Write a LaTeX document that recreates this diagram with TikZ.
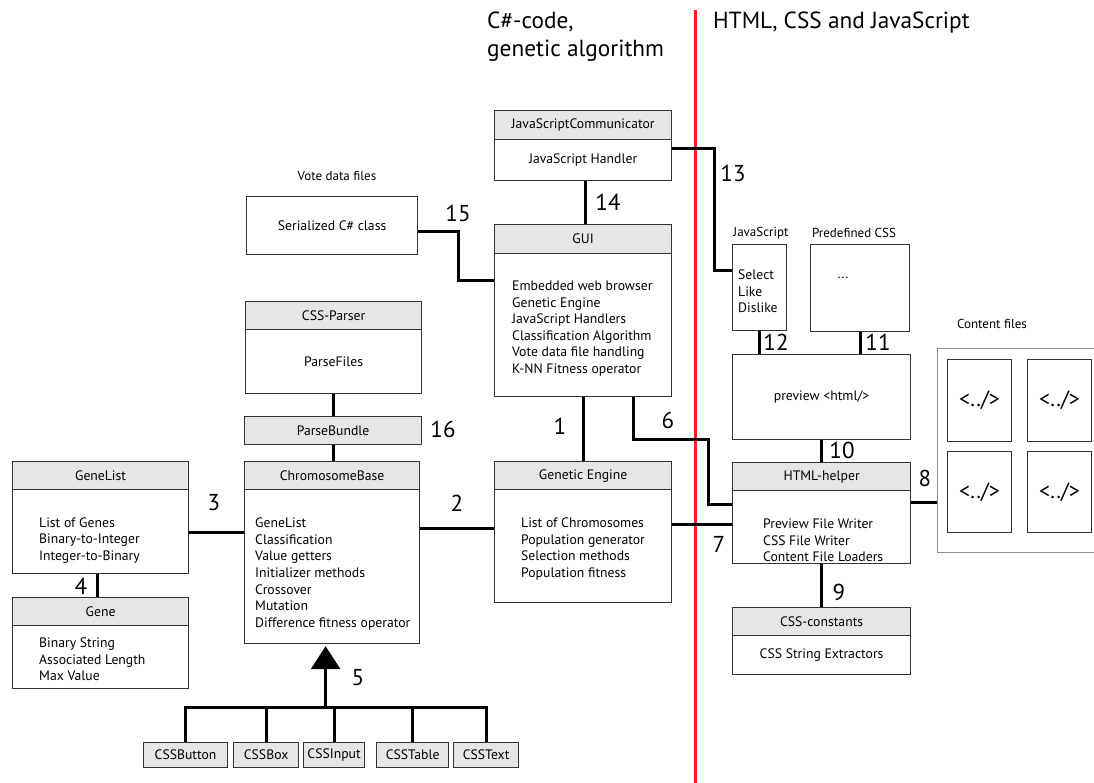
\documentclass[tikz,border=0pt]{standalone}
\usepackage{fontspec}
\setmainfont{PT Sans}
\usetikzlibrary{arrows.meta,calc}
\definecolor{hdrgray}{HTML}{E6E6E6}
\definecolor{edgegray}{HTML}{333333}
\definecolor{framegray}{HTML}{8C8C8C}
\definecolor{divider}{HTML}{FF2020}
\begin{document}
\begin{tikzpicture}[x=1pt,y=-1pt,
  box/.style={draw=edgegray, line width=1.2pt, inner sep=0pt, anchor=north west,
              fill=white, font=\fontsize{13.7}{15}\selectfont},
  hdr/.style={box, fill=hdrgray},
  conn/.style={line width=3pt, draw=black},
  num/.style={font=\fontsize{23}{24}\selectfont, inner sep=0pt},
  lines/.style={align=left, inner sep=0pt, anchor=west, font=\fontsize{13.7}{16.6}\selectfont},
  small/.style={font=\fontsize{13}{14}\selectfont, inner sep=0pt},
  heading/.style={font=\fontsize{23.3}{26}\selectfont, inner sep=0pt, anchor=base west},
  tile/.style={draw=edgegray, line width=1.2pt, inner sep=0pt, anchor=north west,
               minimum width=64pt, font=\fontsize{22}{24}\selectfont},
]
\clip (0,0) rectangle (1094,783);
\fill[white] (0,0) rectangle (1094,783);

% ---- division between the two code bases
\coordinate (divtop) at (695,10);
\coordinate (divbot) at (695,783);
\draw[divider, line width=3pt] (divtop) -- (divbot);
\node[heading] (h1a) at (487,29) {C\#-code,};
\node[heading] (h1b) at (487,57) {genetic algorithm};
\node[heading] (h2) at (713,29) {HTML, CSS and JavaScript};

% ---- C# classes
\node[hdr, minimum width=177pt, minimum height=29pt] (jsc) at (494,110) {JavaScriptCommunicator};
\node[box, minimum width=177pt, minimum height=41pt] (jscb) at (494,139) {JavaScript Handler};

\node[hdr, minimum width=177pt, minimum height=29pt] (gui) at (494,224) {GUI};
\node[box, minimum width=177pt, minimum height=143pt] (guib) at (494,253) {};
\node[lines] (guit) at (512,328.5) {Embedded web browser\\Genetic Engine\\JavaScript Handlers\\Classification Algorithm\\Vote data file handling\\K-NN Fitness operator};

\node[small] (votelbl) at (337,176) {Vote data files};
\node[box, minimum width=171pt, minimum height=58pt] (ser) at (246,196) {Serialized C\# class};

\node[hdr, minimum width=176pt, minimum height=28pt] (csp) at (245,301) {CSS-Parser};
\node[box, minimum width=176pt, minimum height=64pt] (cspb) at (245,329) {ParseFiles};

\node[hdr, minimum width=177pt, minimum height=28pt] (pb) at (244,416) {ParseBundle};

\node[hdr, minimum width=175pt, minimum height=28pt] (cb) at (244,461) {ChromosomeBase};
\node[box, minimum width=175pt, minimum height=154pt] (cbb) at (244,489) {};
\node[lines] (cbt) at (255,574) {GeneList\\Classification\\Value getters\\Initializer methods\\Crossover\\Mutation\\Difference fitness operator};

\node[hdr, minimum width=176pt, minimum height=28pt] (gl) at (12,461) {GeneList};
\node[box, minimum width=176pt, minimum height=84pt] (glb) at (12,489) {};
\node[lines] (glt) at (39,540.5) {List of Genes\\Binary-to-Integer\\Integer-to-Binary};

\node[hdr, minimum width=176pt, minimum height=28pt] (gene) at (12,597) {Gene};
\node[box, minimum width=176pt, minimum height=63pt] (geneb) at (12,625) {};
\node[lines] (genet) at (39,659.5) {Binary String\\Associated Length\\Max Value};

\node[hdr, minimum width=177pt, minimum height=28pt] (ge) at (494,461) {Genetic Engine};
\node[box, minimum width=177pt, minimum height=113pt] (geb) at (494,489) {};
\node[lines] (get) at (521,549) {List of Chromosomes\\Population generator\\Selection methods\\Population fitness};

% ---- CSS element subclasses
\node[hdr, minimum width=84pt, minimum height=25pt] (cssbutton) at (143,742) {CSSButton};
\node[hdr, minimum width=65pt, minimum height=25pt] (cssbox) at (233,742) {CSSBox};
\node[hdr, minimum width=61pt, minimum height=25pt] (cssinput) at (303,742) {CSSInput};
\node[hdr, minimum width=72pt, minimum height=25pt] (csstable) at (376,742) {CSSTable};
\node[hdr, minimum width=65pt, minimum height=25pt] (csstext) at (453,742) {CSSText};

% ---- web side
\node[small] (jslbl) at (761,233) {JavaScript};
\node[box, minimum width=54pt, minimum height=86pt] (js) at (732,244) {};
\node[lines] (jst) at (738,291.5) {Select\\Like\\Dislike};

\node[small] (pcsslbl) at (854,233) {Predefined CSS};
\node[box, minimum width=99pt, minimum height=87pt] (pcss) at (810,244) {};
\node[inner sep=0pt, font=\fontsize{13.7}{15}\selectfont] (dots) at (843,278) {...};

\node[box, minimum width=178pt, minimum height=85pt] (prev) at (732,354) {preview <html/>};

\node[hdr, minimum width=178pt, minimum height=28pt] (hh) at (732,462) {HTML-helper};
\node[box, minimum width=178pt, minimum height=73pt] (hhb) at (732,490) {};
\node[lines] (hht) at (763,540.5) {Preview File Writer\\CSS File Writer\\Content File Loaders};

\node[hdr, minimum width=178pt, minimum height=28pt] (cssc) at (732,607) {CSS-constants};
\node[box, minimum width=178pt, minimum height=39pt] (csscb) at (732,635) {CSS String Extractors};

\node[small] (contlbl) at (992,324) {Content files};
\node[draw=framegray, line width=1.2pt, inner sep=0pt, anchor=north west,
      minimum width=170pt, minimum height=204pt] (frame) at (937,348) {};
\node[tile, minimum height=82pt] (t1) at (947,359) {<../>};
\node[tile, minimum height=82pt] (t2) at (1027,359) {<../>};
\node[tile, minimum height=81pt] (t3) at (947,451) {<../>};
\node[tile, minimum height=81pt] (t4) at (1027,451) {<../>};

% ---- connectors
% 1
\draw[conn] (guib.south) -- (ge.north);
\node[num] at (560,426) {1};
% 2
\draw[conn] ([yshift=-39pt]cbb.north east) -- ([yshift=-39pt]cbb.north east -| geb.west);
\node[num] at (457,503) {2};
% 3
\draw[conn] ([yshift=-43pt]glb.north east) -- ([yshift=-43pt]glb.north east -| cbb.west);
\node[num] at (214,503) {3};
% 4
\draw[conn] ([xshift=-3pt]glb.south) -- ([xshift=-3pt]gene.north);
\node[num] at (81,586) {4};
% 5 : inheritance
\coordinate (bar) at ([yshift=35pt]cssbutton.north);
\draw[conn] (cssbutton.north) |- ([yshift=35pt]csstext.north) -- (csstext.north);
\foreach \c in {cssbox,cssinput,csstable}
  \draw[conn] (\c.north) -- ([yshift=35pt]\c.north);
\coordinate (tip) at ([xshift=-6.5pt,yshift=-2pt]cbb.south);
\draw[conn, -{Triangle[width=29pt,length=23pt]}] (tip |- bar) -- (tip);
\node[num] at (358,678) {5};
% 6
\draw[conn] ([xshift=50pt]guib.south) -- ++(0,42) -| ([xshift=-24pt,yshift=-14pt]hhb.north west)
  -- ([yshift=-14pt]hhb.north west);
\node[num] at (668,420) {6};
% 7
\draw[conn] ([yshift=-35pt]geb.north east) -- ([yshift=-35pt]geb.north east -| hhb.west);
\node[num] at (719,544) {7};
% 8
\draw[conn] ([yshift=-12pt]hhb.north east) -- ([yshift=-12pt]hhb.north east -| frame.west);
\node[num] at (925,478) {8};
% 9
\draw[conn] (hhb.south) -- (cssc.north);
\node[num] at (839,592) {9};
% 10
\draw[conn] (prev.south) -- (hh.north);
\node[num] at (842,450) {10};
% 11
\draw[conn] (pcss.south) -- (pcss.south |- prev.north);
\node[num] at (878,342) {11};
% 12
\draw[conn] (js.south) -- (js.south |- prev.north);
\node[num] at (776,342) {12};
% 13
\draw[conn] ([yshift=-10pt]jscb.north east) -- ++(42,0) |- ([yshift=17pt]js.west);
\node[num] at (733,173) {13};
% 14
\draw[conn] ([xshift=2.5pt]jscb.south) -- ([xshift=2.5pt]gui.north);
\node[num] at (608,202) {14};
% 15
\draw[conn] ([yshift=-6pt]ser.east) -- ++(40,0) |- ([yshift=-28pt]guib.north west);
\node[num] at (458,213) {15};
% 16
\draw[conn] (cspb.south) -- (cspb.south |- pb.north);
\draw[conn] (pb.south) -- (pb.south |- cb.north);
\node[num] at (443,429) {16};
\end{tikzpicture}
\end{document}
